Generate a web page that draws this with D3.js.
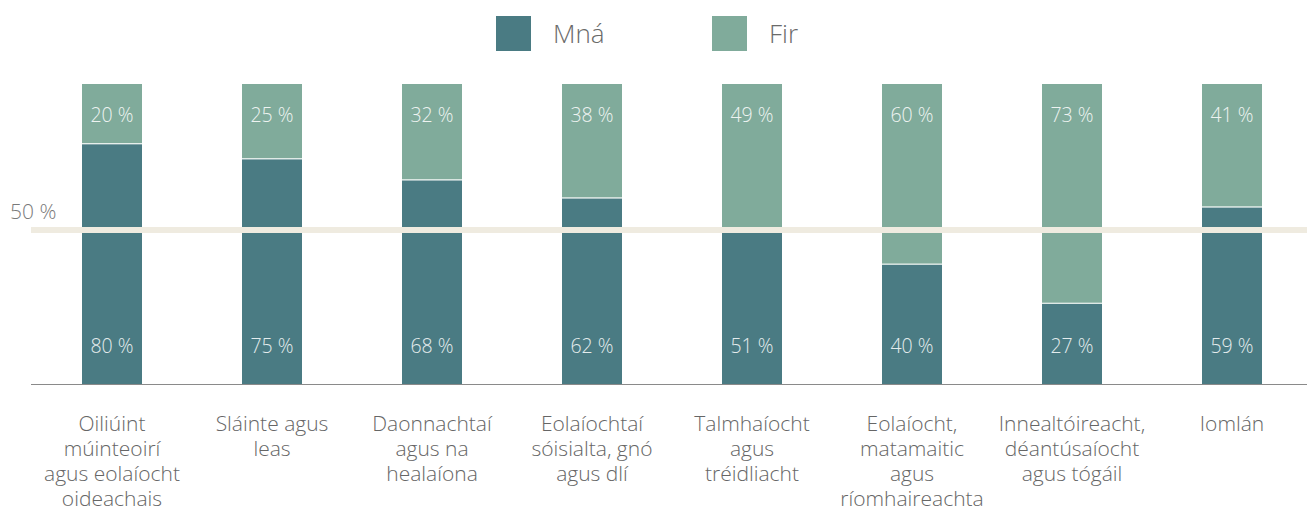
<!DOCTYPE html>
<html><head><meta charset="utf-8">
<script src="https://cdn.jsdelivr.net/npm/d3@7"></script>
<style>body{margin:0;background:#fff;} svg{display:block;}</style>
</head><body>
<svg id="c" width="1307" height="511"></svg>
<script>
const categories = [
  ["Oiliúint","múinteoirí","agus eolaíocht","oideachais"],
  ["Sláinte agus","leas"],
  ["Daonnachtaí","agus na","healaíona"],
  ["Eolaíochtaí","sóisialta, gnó","agus dlí"],
  ["Talmhaíocht","agus","tréidliacht"],
  ["Eolaíocht,","matamaitic","agus","ríomhaireachta"],
  ["Innealtóireacht,","déantúsaíocht","agus tógáil"],
  ["Iomlán"]
];
const mna = [80,75,68,62,51,40,27,59];
const fir = [20,25,32,38,49,60,73,41];
const seriesNames = ["Mná","Fir"];
const refLabel = "50 %";

const colMna = "#4a7b83", colFir = "#80ab9b";
const font = "'Open Sans','Segoe UI',sans-serif";
const svg = d3.select("#c");

const x = d3.scaleBand().domain(d3.range(categories.length)).range([32,1312]).paddingInner(0.625).paddingOuter(0.3125);
const y = d3.scaleLinear().domain([0,100]).range([385,84]);

const g = svg.append("g");
g.selectAll("rect.fir").data(fir).join("rect")
  .attr("x",(d,i)=>x(i)).attr("width",x.bandwidth())
  .attr("y",y(100)).attr("height",(d)=>y(0)-y(d))
  .attr("fill",colFir);
g.selectAll("rect.mna").data(mna).join("rect")
  .attr("x",(d,i)=>x(i)).attr("width",x.bandwidth())
  .attr("y",d=>y(d)).attr("height",d=>y(0)-y(d))
  .attr("fill",colMna);
g.selectAll("line.sep").data(mna).join("line")
  .attr("x1",(d,i)=>x(i)).attr("x2",(d,i)=>x(i)+x.bandwidth())
  .attr("y1",d=>y(d)-0.5).attr("y2",d=>y(d)-0.5)
  .attr("stroke","#fff").attr("stroke-width",1);

// 50% line
svg.append("rect").attr("x",31).attr("width",1307-31).attr("y",y(50)-7.5).attr("height",6).attr("fill","#efebe0");
svg.append("text").attr("x",10).attr("y",219).text(refLabel)
  .attr("font-family",font).attr("font-weight",300).attr("font-size",21).attr("fill","#7a7a7a");

// axis
svg.append("line").attr("x1",31).attr("x2",1307).attr("y1",384.5).attr("y2",384.5).attr("stroke","#8a8a8a").attr("stroke-width",1);

// value labels
g.selectAll("text.fv").data(fir).join("text")
  .attr("x",(d,i)=>x(i)+x.bandwidth()/2).attr("y",122).attr("text-anchor","middle")
  .text(d=>d+" %").attr("font-family",font).attr("font-weight",300).attr("font-size",19.5).attr("fill","#eef3f1");
g.selectAll("text.mv").data(mna).join("text")
  .attr("x",(d,i)=>x(i)+x.bandwidth()/2).attr("y",353).attr("text-anchor","middle")
  .text(d=>d+" %").attr("font-family",font).attr("font-weight",300).attr("font-size",19.5).attr("fill","#e4eced");

// category labels
categories.forEach((lines,i)=>{
  const t = svg.append("text").attr("text-anchor","middle").attr("font-family",font).attr("font-weight",300)
    .attr("font-size",21).attr("fill","#666");
  lines.forEach((l,j)=>{
    t.append("tspan").attr("x",x(i)+x.bandwidth()/2).attr("y",431+j*25).text(l);
  });
});

// legend
const legX = [496,712];
[colMna,colFir].forEach((c,i)=>{
  svg.append("rect").attr("x",legX[i]).attr("y",16).attr("width",35).attr("height",35).attr("fill",c);
  svg.append("text").attr("x",legX[i]+57).attr("y",43).text(seriesNames[i])
    .attr("font-family",font).attr("font-weight",300).attr("font-size",26).attr("fill","#6a6a6a");
});
</script>
</body></html>
